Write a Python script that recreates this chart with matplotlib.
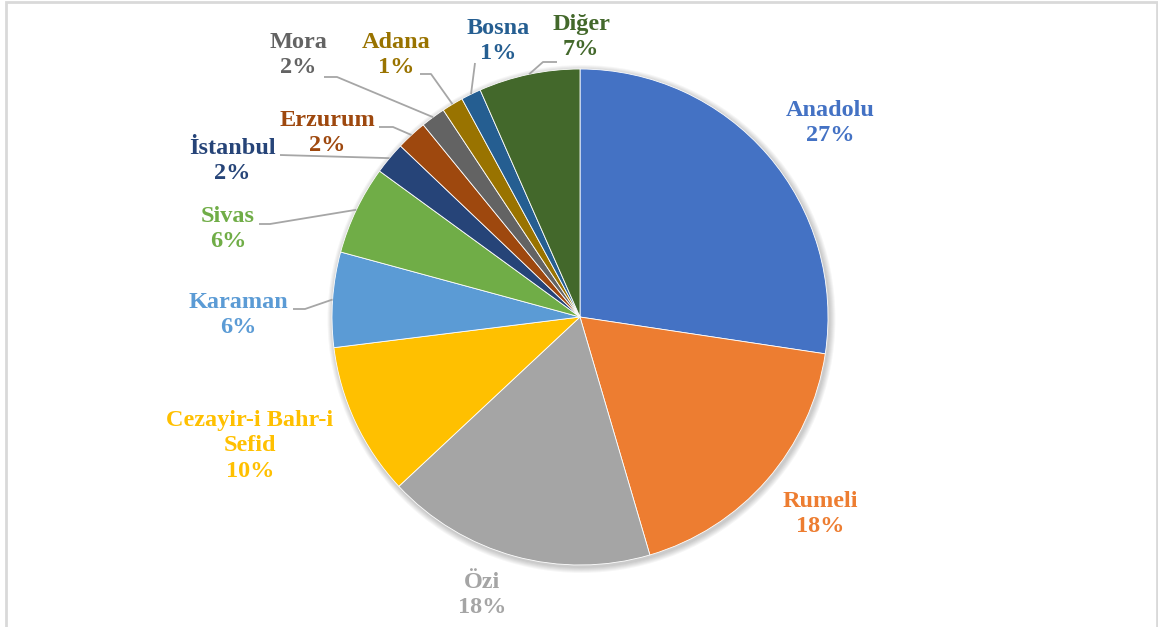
import numpy as np
import matplotlib
matplotlib.use("Agg")
import matplotlib.pyplot as plt
from matplotlib.patches import Circle, Rectangle

# data (share of each region, %)
regions = ["Anadolu", "Rumeli", "Özi", "Cezayir-i Bahr-i\nSefid", "Karaman", "Sivas",
           "İstanbul", "Erzurum", "Mora", "Adana", "Bosna", "Diğer"]
shares = [27.4, 18.1, 17.6, 10.0, 6.2, 5.8, 2.1, 2.0, 1.6, 1.4, 1.3, 6.6]
colors = ["#4472C4", "#ED7D31", "#A5A5A5", "#FFC000", "#5B9BD5", "#70AD47",
          "#264478", "#9E480E", "#636363", "#997300", "#255E91", "#43682B"]

# label centres in pie units (centre 0,0 / radius 1)
label_pos = [(1.008, 0.782), (0.968, -0.794), (-0.395, -1.121), (-1.331, -0.520),
             (-1.379, 0.008), (-1.419, 0.355), (-1.403, 0.629), (-1.020, 0.742),
             (-1.137, 1.056), (-0.742, 1.056), (-0.331, 1.113), (0.004, 1.129)]

# leader lines: points on the label side (pixel coords), the rim end is computed
leaders = {
    4: [(293, 309), (305, 309)],
    5: [(259, 224), (270, 224)],
    6: [(280, 155)],
    7: [(379, 127), (393, 127)],
    8: [(324, 77), (337, 77)],
    9: [(420, 74), (431, 74)],
    10: [(475, 63)],
    11: [(557, 62), (543, 62)],
}

W, H = 1158, 627
cx, cy, R = 580, 317, 248


def px(p):
    return ((p[0] - cx) / R, (cy - p[1]) / R)


fig = plt.figure(figsize=(W / 100, H / 100), dpi=100)
ax = fig.add_axes([0, 0, 1, 1])

# soft shadow under the pie
for k in range(6):
    ax.add_patch(Circle((0.006, -0.008), 1.0 + 0.004 * (k + 1), color="black",
                        alpha=0.035, lw=0, zorder=0))

wedges, _ = ax.pie(shares, colors=colors, startangle=90, counterclock=False,
                   radius=1.0, center=(0, 0), frame=True,
                   wedgeprops=dict(edgecolor="white", linewidth=0.6))
ax.set_xlim(-cx / R, (W - cx) / R)
ax.set_ylim((cy - H) / R, cy / R)
ax.set_aspect("equal")
ax.axis("off")

total = sum(shares)
for i, (name, val) in enumerate(zip(regions, shares)):
    pct = f"{round(val / total * 100)}%"
    ax.text(label_pos[i][0], label_pos[i][1], f"{name}\n{pct}", ha="center", va="center",
            color=colors[i], fontsize=17.5, fontweight="bold", family="Liberation Serif",
            linespacing=1.28)

for i, pts in leaders.items():
    w = wedges[i]
    mid = np.deg2rad((w.theta1 + w.theta2) / 2)
    rim = (np.cos(mid), np.sin(mid))
    xy = [px(p) for p in pts] + [rim]
    ax.plot([p[0] for p in xy], [p[1] for p in xy], color="#A6A6A6", lw=1.3,
            solid_capstyle="butt", zorder=3)

# chart border
fig.add_artist(Rectangle((5.5 / W, -0.02), (1157 - 5.5) / W, 1.02 - 2.5 / H,
                         transform=fig.transFigure, fill=False,
                         edgecolor="#D9D9D9", lw=2))

fig.savefig("out.png", dpi=100)
